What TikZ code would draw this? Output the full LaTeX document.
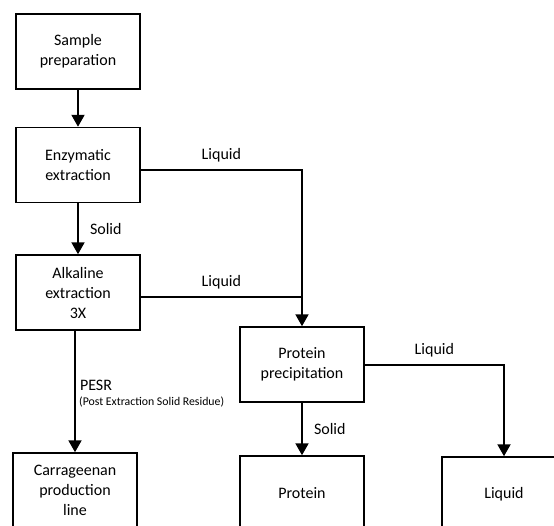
\documentclass[tikz,border=0pt]{standalone}
\usepackage{fontspec}
\setmainfont{Carlito}
\usepackage{tikz}
\usetikzlibrary{positioning, arrows.meta}
\tikzset{
  box/.style={draw, line width=1.5pt, minimum width=124pt, minimum height=75pt, inner sep=0pt, align=center, font=\fontsize{16}{20}\selectfont},
  flow/.style={line width=2pt, -{Triangle[width=13pt,length=12pt]}},
  pipe/.style={line width=2pt},
  lbl/.style={font=\fontsize{16}{20}\selectfont, inner sep=1pt},
  note/.style={font=\fontsize{11.8}{14}\selectfont, inner sep=1pt}
}

\begin{document}
\begin{tikzpicture}[x=1pt,y=-1pt]
\useasboundingbox (0,0) rectangle (554,525);
\clip (0,0) rectangle (554,525);
%boxes
\node[box] (sample) at (78,51.5) {Sample\\preparation};
\node[box] (enz) at (78,165) {Enzymatic\\extraction};
\node[box] (alk) at (78,292.5) {Alkaline\\extraction\\3X};
\node[box] (prec) at (302,364.5) {Protein\\precipitation};
\node[box] (prot) at (302,493.5) {Protein};
\node[box] (liq) at (504,494.5) {Liquid};
\node[box] (carr) at (75,490.5) {Carrageenan\\production\\line};

\draw[flow] (sample) -- (enz);
\draw[flow] (enz) -- node[lbl, right=10pt] (s1) {Solid} (alk);
\draw[flow] ([yshift=-5pt]enz.east) -- node[lbl, above=6pt] (l1) {Liquid} ([yshift=-5pt]enz.east -| prec.north) -- (prec.north);
\draw[pipe] ([yshift=-4pt]alk.east) -- node[lbl, above=5pt] (l2) {Liquid} ([yshift=-4pt]alk.east -| prec.north);
\draw[flow] (carr.north |- alk.south) -- node[lbl, right=3pt, pos=0.45] (pesr) {PESR} (carr.north);
\node[note, below=3pt of pesr.south west, anchor=north west] (pesrnote) {(Post Extraction Solid Residue)};
\draw[flow] (prec) -- node[lbl, right=10pt] (s2) {Solid} (prot);
\draw[flow] (prec.east) -- node[lbl, above=5pt] (l3) {Liquid} (prec.east -| liq.north) -- (liq.north);

\end{tikzpicture}
\end{document}
